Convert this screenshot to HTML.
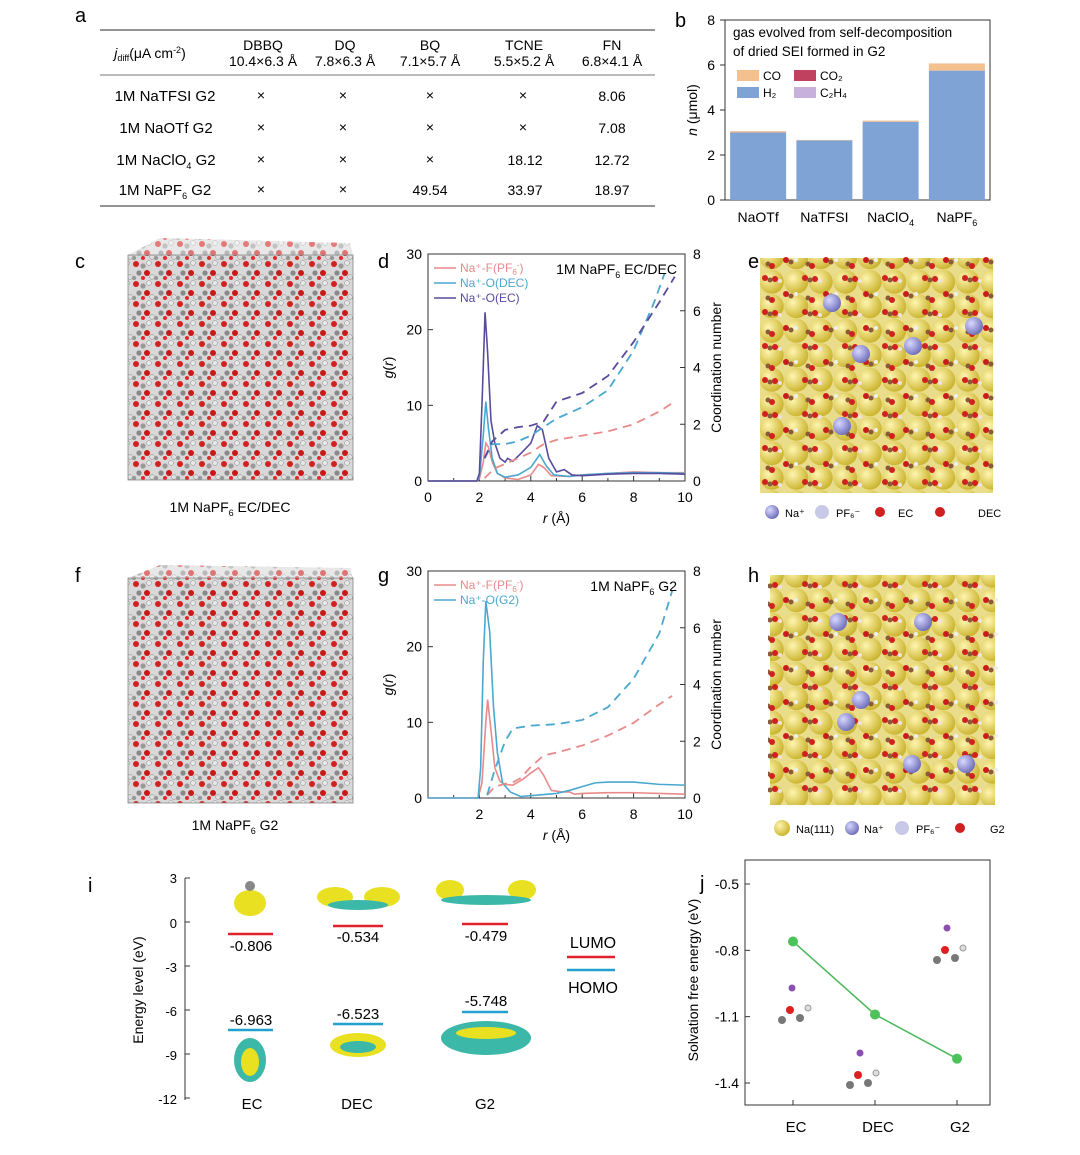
<!DOCTYPE html>
<html><head><meta charset="utf-8">
<style>
body{margin:0;background:#fff;width:1080px;height:1150px;overflow:hidden;font-family:"Liberation Sans",Arial,sans-serif;}
svg text{font-family:"Liberation Sans",Arial,sans-serif;}
</style></head>
<body>
<svg id="fig" width="1080" height="1150" viewBox="0 0 1080 1150" xmlns="http://www.w3.org/2000/svg">
<defs>
<pattern id="mol" width="22" height="20" patternUnits="userSpaceOnUse">
<rect width="22" height="20" fill="#d8d8d8"/>
<circle cx="4" cy="4" r="3" fill="#d32020"/><circle cx="11" cy="6" r="2.6" fill="#999"/>
<circle cx="17" cy="3" r="2.4" fill="#e8e8e8" stroke="#888" stroke-width=".5"/><circle cx="7" cy="13" r="2.6" fill="#888"/>
<circle cx="15" cy="13" r="3" fill="#c81818"/><circle cx="20" cy="17" r="2.4" fill="#ddd" stroke="#888" stroke-width=".5"/>
<circle cx="2" cy="18" r="2.2" fill="#999"/><circle cx="11" cy="18" r="2" fill="#e02a2a"/>
</pattern>
<radialGradient id="na" cx=".35" cy=".35" r=".7"><stop offset="0" stop-color="#fff5b0"/><stop offset="1" stop-color="#c9b22a"/></radialGradient>
<radialGradient id="nab" cx=".35" cy=".35" r=".7"><stop offset="0" stop-color="#d8d8ff"/><stop offset="1" stop-color="#6c6cb8"/></radialGradient>
<pattern id="slab" width="24.5" height="24.5" patternUnits="userSpaceOnUse">
<rect width="24.5" height="24.5" fill="#e9dc8a"/><circle cx="12.25" cy="12.25" r="12" fill="url(#na)"/>
</pattern>
<pattern id="solv" width="40" height="34" patternUnits="userSpaceOnUse">
<circle cx="5" cy="6" r="3" fill="#d02020"/><circle cx="10" cy="8" r="2.5" fill="#8a5a3a"/><circle cx="15" cy="7" r="3" fill="#d02020"/>
<circle cx="20" cy="9" r="2" fill="#f0e0e0"/><circle cx="26" cy="22" r="3" fill="#c81c1c"/><circle cx="31" cy="24" r="2.5" fill="#8a5a3a"/>
<circle cx="36" cy="22" r="2" fill="#eee"/><circle cx="8" cy="26" r="2.5" fill="#8a5a3a"/><circle cx="12" cy="28" r="3" fill="#d02020"/>
</pattern>
</defs>

<g font-size="20">
<text x="75" y="22">a</text><text x="675" y="27">b</text><text x="75" y="268">c</text><text x="378" y="268">d</text>
<text x="748" y="268">e</text><text x="75" y="582">f</text><text x="378" y="582">g</text><text x="748" y="582">h</text>
<text x="88" y="892">i</text><text x="700" y="890">j</text>
</g>

<g font-size="14" text-anchor="middle">
<line x1="100" y1="30" x2="655" y2="30" stroke="#555" stroke-width="1.2"/>
<line x1="100" y1="75" x2="655" y2="75" stroke="#777" stroke-width="1"/>
<line x1="100" y1="206" x2="655" y2="206" stroke="#555" stroke-width="1.2"/>
<text x="150" y="58"><tspan font-style="italic">j</tspan><tspan font-size="9" dy="3">diff</tspan><tspan dy="-3">(μA cm</tspan><tspan font-size="9" dy="-5">-2</tspan><tspan dy="5">)</tspan></text>
<text x="263" y="50">DBBQ</text><text x="263" y="66">10.4×6.3 Å</text>
<text x="345" y="50">DQ</text><text x="345" y="66">7.8×6.3 Å</text>
<text x="430" y="50">BQ</text><text x="430" y="66">7.1×5.7 Å</text>
<text x="524" y="50">TCNE</text><text x="524" y="66">5.5×5.2 Å</text>
<text x="612" y="50">FN</text><text x="612" y="66">6.8×4.1 Å</text>
<g font-size="15">
<text x="165" y="101">1M NaTFSI G2</text><text x="166" y="133">1M NaOTf  G2</text>
<text x="166" y="165">1M NaClO<tspan font-size="9" dy="4">4</tspan><tspan dy="-4"> G2</tspan></text>
<text x="165" y="195">1M NaPF<tspan font-size="9" dy="4">6</tspan><tspan dy="-4"> G2</tspan></text>
</g>
<g>
<text x="261" y="100">×</text><text x="343" y="100">×</text><text x="430" y="100">×</text><text x="523" y="100">×</text><text x="612" y="101">8.06</text>
<text x="261" y="132">×</text><text x="343" y="132">×</text><text x="430" y="132">×</text><text x="523" y="132">×</text><text x="612" y="133">7.08</text>
<text x="261" y="164">×</text><text x="343" y="164">×</text><text x="430" y="164">×</text><text x="525" y="165">18.12</text><text x="612" y="165">12.72</text>
<text x="261" y="194">×</text><text x="343" y="194">×</text><text x="430" y="195">49.54</text><text x="525" y="195">33.97</text><text x="612" y="195">18.97</text>
</g>
</g>

<g id="panelB"></g>
<g id="panelD"></g>
<g id="panelG"></g>
<g id="panelJ"></g>

<g>
<rect x="128" y="255" width="225" height="225" fill="url(#mol)"/>
<polygon points="128,255 160,238 350,243 353,255" fill="url(#mol)" opacity=".6"/>
<rect x="128" y="255" width="225" height="225" fill="none" stroke="#888" stroke-width=".8"/>
<text x="230" y="512" font-size="14" text-anchor="middle">1M NaPF<tspan font-size="9" dy="4">6</tspan><tspan dy="-4"> EC/DEC</tspan></text>
</g>
<g>
<rect x="128" y="578" width="225" height="225" fill="url(#mol)"/>
<polygon points="128,578 160,565 350,568 353,578" fill="url(#mol)" opacity=".6"/>
<rect x="128" y="578" width="225" height="225" fill="none" stroke="#888" stroke-width=".8"/>
<text x="235" y="830" font-size="14" text-anchor="middle">1M NaPF<tspan font-size="9" dy="4">6</tspan><tspan dy="-4"> G2</tspan></text>
</g>

<g>
<rect x="760" y="258" width="233" height="235" fill="url(#slab)"/>
<rect x="758" y="255" width="237" height="240" fill="url(#solv)"/>
<circle cx="832" cy="303" r="9" fill="url(#nab)"/><circle cx="974" cy="326" r="9" fill="url(#nab)"/>
<circle cx="861" cy="354" r="9" fill="url(#nab)"/><circle cx="913" cy="346" r="9" fill="url(#nab)"/><circle cx="842" cy="426" r="9" fill="url(#nab)"/>
<g font-size="11"><circle cx="772" cy="512" r="7" fill="url(#nab)"/><text x="785" y="517">Na⁺</text>
<circle cx="822" cy="512" r="7" fill="#c8c8e8"/><text x="836" y="517">PF₆⁻</text>
<circle cx="880" cy="512" r="5" fill="#d02020"/><text x="898" y="517">EC</text>
<circle cx="940" cy="512" r="5" fill="#d02020"/><text x="978" y="517">DEC</text></g>
</g>
<g>
<rect x="770" y="575" width="225" height="230" fill="url(#slab)"/>
<rect x="768" y="575" width="230" height="225" fill="url(#solv)"/>
<circle cx="838" cy="622" r="9" fill="url(#nab)"/><circle cx="923" cy="622" r="9" fill="url(#nab)"/>
<circle cx="861" cy="700" r="9" fill="url(#nab)"/><circle cx="846" cy="722" r="9" fill="url(#nab)"/>
<circle cx="912" cy="764" r="9" fill="url(#nab)"/><circle cx="966" cy="764" r="9" fill="url(#nab)"/>
<g font-size="11"><circle cx="782" cy="828" r="8" fill="url(#na)"/><text x="796" y="833">Na(111)</text>
<circle cx="852" cy="828" r="7" fill="url(#nab)"/><text x="864" y="833">Na⁺</text>
<circle cx="902" cy="828" r="7" fill="#c8c8e8"/><text x="916" y="833">PF₆⁻</text>
<circle cx="960" cy="828" r="5" fill="#d02020"/><text x="990" y="833">G2</text></g>
</g>

<g id="panelI" font-size="14">
<line x1="185" y1="878" x2="185" y2="1100" stroke="#333"/>
<g text-anchor="end" font-size="13">
<text x="177" y="883">3</text><text x="177" y="928">0</text><text x="177" y="972">-3</text><text x="177" y="1016">-6</text><text x="177" y="1060">-9</text><text x="177" y="1104">-12</text></g>
<g stroke="#333"><line x1="185" y1="878" x2="190" y2="878"/><line x1="185" y1="922" x2="190" y2="922"/><line x1="185" y1="966" x2="190" y2="966"/><line x1="185" y1="1010" x2="190" y2="1010"/><line x1="185" y1="1054" x2="190" y2="1054"/><line x1="185" y1="1098" x2="190" y2="1098"/></g>
<text transform="translate(143,990) rotate(-90)" text-anchor="middle" font-size="14">Energy level (eV)</text>
<g stroke-width="2.5">
<line x1="228" y1="934" x2="273" y2="934" stroke="#e0202a"/><line x1="333" y1="926" x2="383" y2="926" stroke="#e0202a"/><line x1="462" y1="924" x2="508" y2="924" stroke="#e0202a"/>
<line x1="228" y1="1030" x2="273" y2="1030" stroke="#22a0d0"/><line x1="333" y1="1024" x2="383" y2="1024" stroke="#22a0d0"/><line x1="462" y1="1012" x2="508" y2="1012" stroke="#22a0d0"/>
<line x1="567" y1="957" x2="615" y2="957" stroke="#e0202a"/><line x1="567" y1="970" x2="615" y2="970" stroke="#22a0d0"/>
</g>
<g text-anchor="middle" font-size="15">
<text x="251" y="951">-0.806</text><text x="358" y="942">-0.534</text><text x="486" y="941">-0.479</text>
<text x="251" y="1025">-6.963</text><text x="358" y="1019">-6.523</text><text x="486" y="1006">-5.748</text>
<text x="593" y="948" font-size="16">LUMO</text><text x="593" y="993" font-size="16">HOMO</text>
<text x="252" y="1109">EC</text><text x="357" y="1109">DEC</text><text x="485" y="1109">G2</text></g>
<g>
<ellipse cx="250" cy="903" rx="16" ry="13" fill="#e8e020"/><circle cx="250" cy="886" r="5" fill="#888"/>
<ellipse cx="335" cy="897" rx="18" ry="10" fill="#e8e020"/><ellipse cx="382" cy="897" rx="18" ry="10" fill="#e8e020"/><ellipse cx="358" cy="905" rx="30" ry="5" fill="#3cb8a8"/>
<ellipse cx="450" cy="890" rx="14" ry="10" fill="#e8e020"/><ellipse cx="522" cy="890" rx="14" ry="10" fill="#e8e020"/><ellipse cx="486" cy="900" rx="45" ry="5" fill="#3cb8a8"/>
<ellipse cx="250" cy="1060" rx="16" ry="22" fill="#3cb8a8"/><ellipse cx="250" cy="1062" rx="9" ry="14" fill="#e8e020"/>
<ellipse cx="358" cy="1045" rx="28" ry="12" fill="#e8e020"/><ellipse cx="358" cy="1047" rx="18" ry="6" fill="#3cb8a8"/>
<ellipse cx="486" cy="1038" rx="45" ry="17" fill="#3cb8a8"/><ellipse cx="486" cy="1033" rx="30" ry="6" fill="#e8e020"/>
</g>
</g>
</svg>

<script>
const NS='http://www.w3.org/2000/svg';
function mk(parent,tag,attrs,txt){const e=document.createElementNS(NS,tag);for(const k in attrs)e.setAttribute(k,attrs[k]);if(txt!==undefined)e.textContent=txt;parent.appendChild(e);return e;}

const gasCategories=['NaOTf','NaTFSI','NaClO4','NaPF6'];
const gasH2=[3.0,2.65,3.48,5.75];
const gasCO=[0.06,0.02,0.05,0.32];
const gasTicks=[0,2,4,6,8];

const rdfD_F=[[0,0],[1.9,0],[2.0,0.3],[2.15,2.5],[2.25,5],[2.35,4.5],[2.5,2.5],[2.7,1],[3,0.4],[3.5,0.2],[4,0.8],[4.3,2.2],[4.5,1.8],[4.8,0.7],[5.5,0.6],[6,0.8],[7,1],[8,1.2],[9,1.1],[10,1.1]];
const rdfD_DEC=[[0,0],[1.9,0],[2.0,0.5],[2.15,6],[2.25,10.5],[2.35,7],[2.5,3],[2.7,1],[3,0.5],[3.5,0.8],[4,1.8],[4.35,3.5],[4.6,2],[4.9,0.8],[5.5,0.6],[6,0.8],[7,1],[8,1.1],[9,1.1],[10,1]];
const rdfD_EC=[[0,0],[1.9,0],[2.0,1],[2.12,12],[2.22,22.3],[2.32,17],[2.45,8],[2.6,5],[2.8,3],[3,2.5],[3.1,3],[3.3,2.6],[3.6,3.6],[4,5],[4.25,7.3],[4.45,6.8],[4.7,3],[5,1.2],[5.3,1.5],[5.6,0.8],[6,0.7],[7,0.9],[8,1],[9,1],[10,0.9]];
const cnD_F=[[2.2,0.1],[2.6,0.45],[3,0.6],[3.5,0.8],[4,1],[4.5,1.3],[5,1.45],[6,1.6],[7,1.75],[8,2],[9,2.45],[9.6,2.8]];
const cnD_DEC=[[2.2,0.8],[2.5,1.3],[3,1.3],[3.5,1.4],[4,1.6],[4.5,1.9],[5,2.2],[6,2.6],[7,3.2],[8,4.6],[8.8,6.3],[9.2,7.3]];
const cnD_EC=[[2.2,0.8],[2.5,1.4],[3,1.8],[3.5,1.9],[4,1.95],[4.5,2.1],[5,2.8],[6,3.1],[7,3.7],[8,4.9],[9,6.3],[9.6,7.2]];

const rdfG_F=[[0,0],[1.95,0],[2.1,2],[2.25,10],[2.32,13],[2.45,9],[2.6,4],[2.8,2.2],[3,1.8],[3.3,1.7],[3.7,2.5],[4,3.3],[4.3,4],[4.5,3],[4.8,1],[5.2,0.8],[5.5,0.8],[5.7,0.5],[6,0.6],[7,0.7],[8,0.7],[9,0.6],[10,0.5]];
const rdfG_G2=[[0,0],[1.95,0],[2.05,4],[2.15,18],[2.25,26],[2.4,22],[2.55,12],[2.7,6],[2.9,2],[3.2,0.8],[3.6,0.2],[4,0.3],[5,0.6],[5.5,1],[6,1.5],[6.5,2],[7,2.1],[8,2.1],[9,1.8],[10,1.7]];
const cnG_F=[[2.3,0.1],[2.6,0.4],[3,0.5],[3.3,0.55],[3.6,0.7],[4,1.1],[4.5,1.5],[5,1.6],[6,1.85],[7,2.2],[8,2.65],[9,3.3],[9.5,3.6]];
const cnG_G2=[[2.3,0.1],[2.6,1],[3,2],[3.3,2.45],[4,2.55],[5,2.6],[6,2.75],[7,3.2],[8,4.2],[9,5.8],[9.5,7.3]];

const solvCats=['EC','DEC','G2'];
const solvEnergy=[-0.76,-1.09,-1.29];
const solvTicks=[-0.5,-0.8,-1.1,-1.4];

(function(){
const g=document.getElementById('panelB');
const x0=725,x1=990,yTop=20,yBot=200;
const y=v=>yBot-(v/8)*(yBot-yTop);
const bw=(x1-x0)/gasCategories.length;
mk(g,'rect',{x:x0,y:yTop,width:x1-x0,height:yBot-yTop,fill:'none',stroke:'#333'});
gasTicks.forEach(t=>{mk(g,'line',{x1:x0-5,y1:y(t),x2:x0,y2:y(t),stroke:'#333'});
const tl=mk(g,'text',{x:x0-10,y:y(t)+5,'text-anchor':'end','font-size':14},String(t));

});
const yl=mk(g,'text',{transform:`translate(${x0-28},110) rotate(-90)`,'text-anchor':'middle','font-size':14},'');
yl.innerHTML='<tspan font-style="italic">n</tspan> (μmol)';


gasCategories.forEach((c,i)=>{
const cx=x0+bw*(i+0.5);
const r=mk(g,'rect',{x:cx-28,y:y(gasH2[i]),width:56,height:yBot-y(gasH2[i]),fill:'#7fa3d4'});


const r2=mk(g,'rect',{x:cx-28,y:y(gasH2[i]+gasCO[i]),width:56,height:y(gasH2[i])-y(gasH2[i]+gasCO[i]),fill:'#f4c08e'});


const m=c.match(/^(.*?)(\d)$/);
const t=mk(g,'text',{x:cx,y:yBot+22,'text-anchor':'middle','font-size':14},'');
t.innerHTML=m?`${m[1]}<tspan font-size="9" dy="4">${m[2]}</tspan>`:c;


});
mk(g,'text',{x:733,y:37,'font-size':13.5},'gas evolved from self-decomposition');
mk(g,'text',{x:733,y:56,'font-size':13.5},'of dried SEI formed in G2');
const leg=[['#f4c08e','CO',737,70],['#c04060','CO₂',794,70],['#7fa3d4','H₂',737,87],['#c8b0dc','C₂H₄',794,87]];
leg.forEach(l=>{const r=mk(g,'rect',{x:l[2],y:l[3],width:22,height:11,fill:l[0]});


mk(g,'text',{x:l[2]+26,y:l[3]+10,'font-size':12},l[1]);});
})();

function rdfChart(id,top,series,cns,legend,title){
const g=document.getElementById(id);
const x0=428,x1=685,y0=top+227,y1=top;
const X=r=>x0+r/10*(x1-x0), Y=v=>y0-v/30*(y0-y1), Yc=v=>y0-v/8*(y0-y1);
mk(g,'rect',{x:x0,y:y1,width:x1-x0,height:y0-y1,fill:'none',stroke:'#333'});
[0,2,4,6,8,10].forEach(t=>{mk(g,'line',{x1:X(t),y1:y0,x2:X(t),y2:y0-5,stroke:'#333'});
if(t!==0||id==='panelD'){const tl=mk(g,'text',{x:X(t),y:y0+21,'text-anchor':'middle','font-size':14},String(t));

}});
[1,3,5,7,9].forEach(t=>mk(g,'line',{x1:X(t),y1:y0,x2:X(t),y2:y0-3,stroke:'#333'}));
[0,10,20,30].forEach(t=>{mk(g,'line',{x1:x0,y1:Y(t),x2:x0+5,y2:Y(t),stroke:'#333'});
const tl=mk(g,'text',{x:x0-6,y:Y(t)+5,'text-anchor':'end','font-size':14},String(t));

});
[0,2,4,6,8].forEach(t=>{mk(g,'line',{x1:x1,y1:Yc(t),x2:x1-5,y2:Yc(t),stroke:'#333'});
const tl=mk(g,'text',{x:x1+8,y:Yc(t)+5,'font-size':14},String(t));

});
const xt=mk(g,'text',{x:(x0+x1)/2,y:y0+42,'text-anchor':'middle','font-size':14},'');
xt.innerHTML='<tspan font-style="italic">r</tspan> (Å)';


const yt=mk(g,'text',{transform:`translate(${x0-35},${(y0+y1)/2}) rotate(-90)`,'text-anchor':'middle','font-size':14},'');
yt.innerHTML='<tspan font-style="italic">g</tspan>(<tspan font-style="italic">r</tspan>)';


const y2t=mk(g,'text',{transform:`translate(${x1+36},${(y0+y1)/2}) rotate(-90)`,'text-anchor':'middle','font-size':14},'Coordination number');


series.forEach(s=>{const p=mk(g,'polyline',{points:s.d.map(q=>X(q[0])+','+Y(q[1])).join(' '),fill:'none',stroke:s.c,'stroke-width':1.6});

});
cns.forEach(s=>{const p=mk(g,'polyline',{points:s.d.map(q=>X(q[0])+','+Yc(q[1])).join(' '),fill:'none',stroke:s.c,'stroke-width':1.8,'stroke-dasharray':'9 6'});

});
legend.forEach((l,i)=>{const ly=y1+14+i*15;
mk(g,'line',{x1:x0+6,y1:ly,x2:x0+28,y2:ly,stroke:l.c,'stroke-width':1.6});
const t=mk(g,'text',{x:x0+32,y:ly+4,'font-size':12,fill:l.c},'');t.innerHTML=l.t;

});
const tt=mk(g,'text',{x:x1-8,y:y1+20,'text-anchor':'end','font-size':14},'');tt.innerHTML=title;


}
const cF='#e88a8a',cB='#4aa8d0',cP='#5a4a9c';
rdfChart('panelD',254,[{d:rdfD_F,c:cF},{d:rdfD_DEC,c:cB},{d:rdfD_EC,c:cP}],[{d:cnD_F,c:cF},{d:cnD_DEC,c:cB},{d:cnD_EC,c:cP}],
[{c:cF,t:'Na⁺-F(PF<tspan font-size="8" dy="3">6</tspan><tspan font-size="8" dy="-7">-</tspan><tspan dy="4">)</tspan>'},{c:cB,t:'Na⁺-O(DEC)'},{c:cP,t:'Na⁺-O(EC)'}],
'1M NaPF<tspan font-size="9" dy="4">6</tspan><tspan dy="-4"> EC/DEC</tspan>');
rdfChart('panelG',571,[{d:rdfG_F,c:cF},{d:rdfG_G2,c:cB}],[{d:cnG_F,c:cF},{d:cnG_G2,c:cB}],
[{c:cF,t:'Na⁺-F(PF<tspan font-size="8" dy="3">6</tspan><tspan font-size="8" dy="-7">-</tspan><tspan dy="4">)</tspan>'},{c:cB,t:'Na⁺-O(G2)'}],
'1M NaPF<tspan font-size="9" dy="4">6</tspan><tspan dy="-4"> G2</tspan>');

(function(){
const g=document.getElementById('panelJ');
const x0=745,x1=990,yTop=860,yBot=1105;
const Y=v=>884+(-0.5-v)/0.9*199;
const X=i=>793+i*82;
mk(g,'rect',{x:x0,y:yTop,width:x1-x0,height:yBot-yTop,fill:'none',stroke:'#333'});
solvTicks.forEach(t=>{mk(g,'line',{x1:x0,y1:Y(t),x2:x0+5,y2:Y(t),stroke:'#333'});
const tl=mk(g,'text',{x:x0-6,y:Y(t)+5,'text-anchor':'end','font-size':14},t.toFixed(1));

});
solvCats.forEach((c,i)=>{mk(g,'line',{x1:X(i),y1:yBot,x2:X(i),y2:yBot-5,stroke:'#333'});
const tl=mk(g,'text',{x:X(i)+3,y:yBot+27,'text-anchor':'middle','font-size':15},c);

});
const yt=mk(g,'text',{transform:`translate(${x0-47},980) rotate(-90)`,'text-anchor':'middle','font-size':14},'Solvation free energy (eV)');


const ln=mk(g,'polyline',{points:solvEnergy.map((v,i)=>X(i)+','+Y(v)).join(' '),fill:'none',stroke:'#4cb85a','stroke-width':1.5});


solvEnergy.forEach((v,i)=>{const c=mk(g,'circle',{cx:X(i),cy:Y(v),r:5,fill:'#4cc35a'});

});
[[790,1010],[858,1075],[945,950]].forEach(m=>{
mk(g,'circle',{cx:m[0],cy:m[1],r:4,fill:'#e02020'});mk(g,'circle',{cx:m[0]+10,cy:m[1]+8,r:4,fill:'#777'});
mk(g,'circle',{cx:m[0]-8,cy:m[1]+10,r:4,fill:'#777'});mk(g,'circle',{cx:m[0]+18,cy:m[1]-2,r:3,fill:'#ddd',stroke:'#999'});
mk(g,'circle',{cx:m[0]+2,cy:m[1]-22,r:3.5,fill:'#8a50b0'});});
})();
</script>
</body></html>
